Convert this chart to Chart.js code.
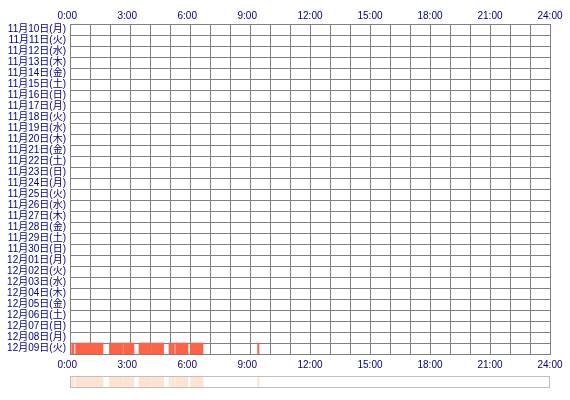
<!DOCTYPE html>
<html><head><meta charset="utf-8">
<script src="https://cdn.jsdelivr.net/npm/chart.js@4/dist/chart.umd.min.js"></script>
<style>
html,body{margin:0;padding:0;background:#fff;overflow:hidden;width:570px;height:400px;}
#main{position:absolute;left:0;top:0;}
#sum{position:absolute;left:0;top:372px;}
</style></head>
<body>
<canvas id="main" width="570" height="372"></canvas>
<canvas id="sum" width="570" height="28"></canvas>
<script>
const dateLabels = [
 '11月10日(月)','11月11日(火)','11月12日(水)','11月13日(木)','11月14日(金)','11月15日(土)','11月16日(日)',
 '11月17日(月)','11月18日(火)','11月19日(水)','11月20日(木)','11月21日(金)','11月22日(土)','11月23日(日)',
 '11月24日(月)','11月25日(火)','11月26日(水)','11月27日(木)','11月28日(金)','11月29日(土)','11月30日(日)',
 '12月01日(月)','12月02日(火)','12月03日(水)','12月04日(木)','12月05日(金)','12月06日(土)','12月07日(日)',
 '12月08日(月)','12月09日(火)'
];
const segDay = ['12月09日(火)','12月09日(火)','12月09日(火)','12月09日(火)','12月09日(火)','12月09日(火)',
 '12月09日(火)','12月09日(火)','12月09日(火)','12月09日(火)','12月09日(火)'];
const segStart = [0.08, 0.28, 1.97, 2.68, 3.45, 4.07, 4.95, 5.07, 5.28, 6.03, 9.38];
const segEnd   = [0.20, 1.65, 2.63, 3.20, 4.02, 4.68, 5.02, 5.22, 5.90, 6.65, 9.45];
const hourMin = 0, hourMax = 24, hourLabelStep = 3;

Chart.defaults.font.family = "'Liberation Sans', 'Noto Sans CJK JP', sans-serif";
Chart.defaults.font.size = 10;
Chart.defaults.color = '#000080';

const GRID = '#808080';
const tickCb = v => (v % hourLabelStep === 0) ? (v + ':00' + (v < 10 ? '  ' : '')) : '';

new Chart(document.getElementById('main'), {
  type: 'bar',
  data: {
    labels: dateLabels,
    datasets: [{
      data: segStart.map((s, i) => ({x: [s, segEnd[i]], y: segDay[i]})),
      backgroundColor: '#FF6347',
      borderWidth: 0,
      barPercentage: 1,
      categoryPercentage: 1,
      xAxisID: 'x', yAxisID: 'y'
    }]
  },
  options: {
    indexAxis: 'y',
    responsive: false,
    animation: false,
    events: [],
    layout: {padding: {left: 0, right: 20, top: 0, bottom: 0}},
    plugins: {legend: {display: false}, tooltip: {enabled: false}},
    scales: {
      y: {
        type: 'category',
        z: 1,
        grid: {color: GRID, lineWidth: 1, drawTicks: false, offset: true},
        border: {color: GRID},
        ticks: {color: '#000080', padding: 4, autoSkip: false, font: {size: 10}},
        afterFit: s => { s.width = 70; }
      },
      x: {
        type: 'linear', position: 'bottom', min: hourMin, max: hourMax,
        z: 1,
        grid: {color: GRID, lineWidth: 1, drawTicks: false},
        border: {color: GRID},
        ticks: {stepSize: 1, autoSkip: false, maxRotation: 0, padding: 5, callback: tickCb},
        afterFit: s => { s.height = 18; s.paddingLeft = 0; s.paddingRight = 0; }
      },
      x2: {
        type: 'linear', position: 'top', min: hourMin, max: hourMax,
        grid: {display: false, drawTicks: false},
        border: {display: false},
        ticks: {stepSize: 1, autoSkip: false, maxRotation: 0, padding: 2, callback: tickCb},
        afterFit: s => { s.height = 24; s.paddingLeft = 0; s.paddingRight = 0; }
      }
    }
  }
});

const boxPlugin = {
  id: 'box',
  afterDraw(chart) {
    const a = chart.chartArea, c = chart.ctx;
    c.save();
    c.strokeStyle = '#C0C0C0';
    c.lineWidth = 1;
    c.strokeRect(a.left + 0.5, a.top + 0.5, a.right - a.left - 1, a.bottom - a.top - 1);
    c.restore();
  }
};

new Chart(document.getElementById('sum'), {
  type: 'bar',
  data: {
    labels: ['all'],
    datasets: [{
      data: segStart.map((s, i) => ({x: [s, segEnd[i]], y: 'all'})),
      backgroundColor: '#FFE3CF',
      borderWidth: 0,
      barPercentage: 1,
      categoryPercentage: 1
    }]
  },
  options: {
    indexAxis: 'y',
    responsive: false,
    animation: false,
    events: [],
    layout: {padding: {left: 70, right: 20, top: 4, bottom: 12}},
    plugins: {legend: {display: false}, tooltip: {enabled: false}},
    scales: {
      x: {type: 'linear', min: hourMin, max: hourMax, display: false},
      y: {type: 'category', display: false}
    }
  },
  plugins: [boxPlugin]
});
</script>
</body></html>
